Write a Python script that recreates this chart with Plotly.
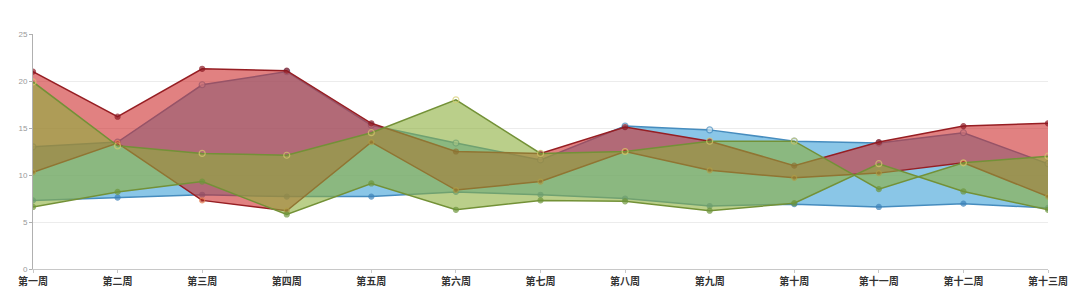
import plotly.graph_objects as go

weeks = ["第一周", "第二周", "第三周", "第四周", "第五周", "第六周", "第七周",
         "第八周", "第九周", "第十周", "第十一周", "第十二周", "第十三周"]

red_a = [21.0, 16.2, 21.3, 21.1, 15.5, 12.5, 12.3, 15.1, 13.6, 11.0, 13.5, 15.2, 15.5]
red_b = [10.3, 13.4, 7.3, 6.2, 13.5, 8.4, 9.3, 12.5, 10.5, 9.7, 10.2, 11.3, 7.7]
blue_a = [13.0, 13.5, 19.6, 21.0, 15.3, 13.4, 11.6, 15.2, 14.8, 13.6, 13.4, 14.5, 11.2]
blue_b = [7.3, 7.6, 7.9, 7.7, 7.7, 8.2, 7.9, 7.5, 6.7, 6.9, 6.6, 6.95, 6.5]
green_a = [19.9, 13.1, 12.3, 12.1, 14.5, 18.0, 12.3, 12.5, 13.6, 13.6, 8.5, 11.3, 12.0]
green_b = [6.6, 8.2, 9.3, 5.8, 9.1, 6.3, 7.3, 7.2, 6.2, 7.0, 11.2, 8.25, 6.3]


def marker_styles(a, b, hi, lo):
    """Per-point marker styling: the higher value of the pair gets the 'hi' look."""
    sa = {k: [] for k in ("symbol", "size", "color", "lc")}
    sb = {k: [] for k in ("symbol", "size", "color", "lc")}
    for va, vb in zip(a, b):
        for st, top in ((sa, va >= vb), (sb, vb > va)):
            src = hi if top else lo
            st["symbol"].append(src[0]); st["size"].append(src[1])
            st["color"].append(src[2]); st["lc"].append(src[3])
    mk = lambda s: dict(symbol=s["symbol"], size=s["size"], color=s["color"],
                        line=dict(color=s["lc"], width=1.2))
    return mk(sa), mk(sb)


series = [
    (blue_a, blue_b, "rgba(60,160,215,0.6)", "rgb(70,140,190)",
     ("circle", 6, "rgb(200,225,240)", "rgb(70,140,190)"),
     ("circle", 5, "rgb(60,130,185)", "rgb(60,130,185)")),
    (red_a, red_b, "rgba(205,45,45,0.6)", "rgb(150,30,35)",
     ("circle", 5, "rgb(140,25,35)", "rgb(140,25,35)"),
     ("circle", 5, "rgb(170,40,30)", "rgb(230,130,80)")),
    (green_a, green_b, "rgba(140,175,60,0.6)", "rgb(115,145,55)",
     ("circle", 6, "rgba(0,0,0,0)", "rgb(215,205,110)"),
     ("circle", 5, "rgb(110,150,60)", "rgb(110,150,60)")),
]

fig = go.Figure()
for a, b, fill, lc, hi, lo in series:
    ma, mb = marker_styles(a, b, hi, lo)
    fig.add_trace(go.Scatter(x=weeks, y=b, mode="lines+markers",
                             line=dict(color=lc, width=1.5), marker=mb,
                             hoverinfo="skip", showlegend=False))
    fig.add_trace(go.Scatter(x=weeks, y=a, mode="lines+markers", fill="tonexty",
                             fillcolor=fill, line=dict(color=lc, width=1.5), marker=ma,
                             hoverinfo="skip", showlegend=False))

fig.update_layout(
    width=1080, height=308,
    margin=dict(l=33, r=29, t=34, b=39),
    paper_bgcolor="white", plot_bgcolor="white",
    showlegend=False,
    xaxis=dict(
        type="category", range=[0, 12], showgrid=False,
        showline=True, linecolor="#c8c8c8", linewidth=1,
        ticks="outside", ticklen=3, tickcolor="#c8c8c8",
        tickfont=dict(family="Noto Sans CJK SC", size=10, color="#333333", weight="bold"),
        zeroline=False,
    ),
    yaxis=dict(
        range=[0, 25], tickvals=[0, 5, 10, 15, 20, 25],
        showgrid=True, gridcolor="#ececec", gridwidth=1,
        showline=True, linecolor="#b0b0b0", linewidth=1,
        ticks="outside", ticklen=3, tickcolor="#b0b0b0",
        tickfont=dict(family="Liberation Sans", size=8, color="#999999"),
        zeroline=False,
    ),
)

fig.write_html("out.html")
